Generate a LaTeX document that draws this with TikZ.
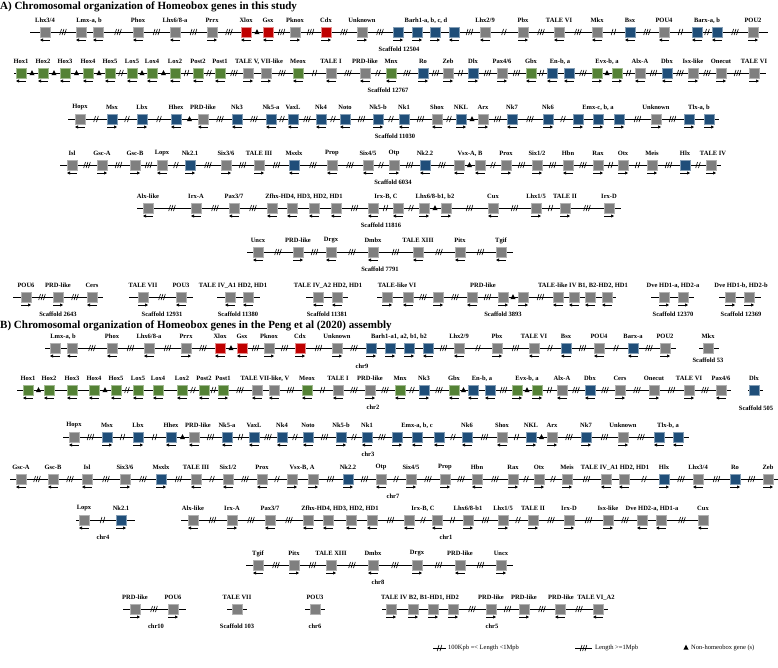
\documentclass[tikz,border=0pt]{standalone}
\usepackage{fontspec}
\setmainfont{Liberation Serif}
\usetikzlibrary{arrows.meta}
\definecolor{hgray}{HTML}{7F7F7F}
\definecolor{hblue}{HTML}{1F4E79}
\definecolor{hgreen}{HTML}{548235}
\definecolor{hred}{HTML}{C00000}
\newcommand\gsl{/}
% one chromosome segment: y, x start, x end, boxes x/colour/direction/separator-before
\newcommand\generow[4]{%
  \draw[chrline] (#2,#1) -- (#3,#1);
  \foreach \x/\c/\d/\s [remember=\x as \px (initially 0)] in {#4}{
    \pic at ({(\px+\x)/2},#1) {sep\s};
    \node[gbox, f\c] (g\x-#1) at (\x,#1) {};
    \pic at (\x,#1) {arr\d};
  }}
% gene names above a segment
\newcommand\genelabels[2]{%
  \foreach \x/\t in {#2}{\node[glabel] (l\x-#1) at (\x,#1-11.5) {\t};}}
\tikzset{
  chrline/.style={line width=1pt, black},
  gbox/.style={draw=white!70!black, line width=0.5pt, minimum size=10pt, inner sep=0pt},
  fg/.style={fill=hgray}, fr/.style={fill=hred, draw=hred!45!white},
  fb/.style={fill=hblue, draw=hblue!55!white}, fe/.style={fill=hgreen, draw=hgreen!55!white},
  glabel/.style={font=\bfseries\fontsize{6.5}{7}\selectfont, inner sep=0pt},
  scaf/.style={glabel},
  title/.style={anchor=west, inner sep=0pt, font=\bfseries\fontsize{11}{13}\selectfont},
  legend/.style={anchor=west, inner sep=0pt, font=\fontsize{6.5}{7}\selectfont},
  gapline/.style={line width=0.6pt, black},
  dirarrow/.style={line width=0.7pt, black},
  sep0/.pic={},
  sep2/.pic={\draw[gapline] (-2.3,3)--(-0.5,-3) (0.5,3)--(2.3,-3);},
  sep3/.pic={\draw[gapline] (-3.3,3)--(-1.5,-3) (-0.9,3)--(0.9,-3) (1.5,3)--(3.3,-3);},
  sept/.pic={\fill[black] (-2.6,2.2)--(2.6,2.2)--(0,-2.8)--cycle;},
  arrl/.pic={\draw[dirarrow, {Triangle[length=3pt,width=3pt]}-] (-5,8)--(5,8);},
  arrr/.pic={\draw[dirarrow, -{Triangle[length=3pt,width=3pt]}] (-5,8)--(5,8);},
  arrn/.pic={}
}
\begin{document}
\begin{tikzpicture}[x=1pt, y=-1pt]
\useasboundingbox[fill=white] (0,0) rectangle (778,667);

% A) this study
\node[title] (titA) at (0,7) {A) Chromosomal organization of Homeobox genes in this study};

\generow{32}{30}{768}{45/g/l/0, 81/g/l/3, 98/g/l/0, 138/g/l/3, 175/g/l/3, 212/g/r/3, 246/r/l/3, 268/r/l/t, 295/g/r/3, 326/r/r/3, 362/g/r/3, 398/b/r/3, 417/b/r/0, 435/b/r/0, 454/b/l/0, 485/g/l/3, 523/g/r/2, 559/g/l/3, 597/g/l/3, 630/b/l/2, 664/g/l/3, 697/b/l/2, 717/b/l/2, 753/g/r/3}
\genelabels{32}{45/Lhx3\gsl 4, 89/{Lmx-a, b}, 138/Phox, 175/Lhx6\gsl 8-a, 212/Prrx, 246/Xlox, 268/Gsx, 295/Pknox, 326/Cdx, 362/Unknown, 426/{Barh1-a, b, c, d}, 485/Lhx2\gsl 9, 523/Pbx, 559/TALE VI, 597/Mkx, 630/Bsx, 664/POU4, 707/{Barx-a, b}, 753/POU2}
\node[scaf] (s12504) at (399,49) {Scaffold 12504};

\generow{73}{14}{766}{21/e/l/0, 43/e/l/t, 65/e/l/t, 88/e/l/t, 110/e/l/t, 132/e/l/2, 152/e/l/t, 175/e/l/t, 198/e/l/2, 220/e/l/2, 248/g/r/3, 266/g/r/0, 298/e/l/3, 331/g/l/2, 365/g/l/3, 391/e/l/2, 423/b/r/3, 448/g/r/3, 473/b/r/2, 502/g/r/3, 531/e/l/3, 552/b/l/2, 569/b/l/0, 597/e/r/3, 617/e/r/t, 640/g/l/2, 667/b/l/3, 693/g/r/3, 721/g/r/3, 754/g/r/3}
\genelabels{73}{21/Hox1, 43/Hox2, 65/Hox3, 88/Hox4, 110/Hox5, 132/Lox5, 152/Lox4, 175/Lox2, 198/Post2, 220/Post1, 259/{TALE V, VII-like}, 298/Meox, 331/TALE I, 365/PRD-like, 391/Mnx, 423/Ro, 448/Zeb, 473/Dlx, 502/Pax4\gsl 6, 531/Gbx, 560/{En-b, a}, 607/{Evx-b, a}, 640/Alx-A, 667/Dbx, 693/Isx-like, 721/Onecut, 754/TALE VI}
\node[scaf] (s12767) at (388,90) {Scaffold 12767};

\generow{119}{68}{719}{80/g/l/0, 112/b/r/2, 142/b/r/2, 176/b/l/2, 203/g/l/t, 237/b/l/3, 271/b/l/3, 293/b/l/2, 321/b/l/3, 345/b/l/2, 378/b/r/3, 404/b/l/2, 437/g/l/3, 461/b/r/2, 483/g/r/t, 512/b/l/3, 548/b/r/3, 578/b/r/2, 598/b/r/0, 619/b/r/0, 656/g/r/3, 689/b/r/3, 709/b/r/0}
\genelabels{119}{80/Hopx, 112/Msx, 142/Lbx, 176/Hhex, 203/PRD-like, 237/Nk3, 271/Nk5-a, 293/VaxL, 321/Nk4, 345/Noto, 378/Nk5-b, 404/Nk1, 437/Shox, 461/NKL, 483/Arx, 512/Nk7, 548/Nk6, 598/{Emx-c, b, a}, 656/Unknown, 699/{Tlx-a, b}}
\node[scaf] (s11030) at (395,136) {Scaffold 11030};

\generow{165}{60}{721}{72/g/l/0, 102/g/r/3, 135/g/r/3, 162/g/l/3, 190/b/r/2, 226/g/r/3, 259/g/r/3, 294/b/l/3, 332/g/l/3, 368/g/l/3, 394/g/r/2, 425/b/l/3, 459/g/l/3, 480/g/l/t, 506/g/r/2, 537/g/r/3, 568/g/l/3, 598/g/r/3, 623/g/r/2, 652/g/r/2, 685/b/r/3, 711/g/r/2}
\genelabels{165}{72/Isl, 102/Gsc-A, 135/Gsc-B, 162/Lopx, 190/Nk2.1, 226/Six3\gsl 6, 259/TALE III, 294/Msxlx, 332/Prop, 368/Six4\gsl 5, 394/Otp, 425/Nk2.2, 470/{Vsx-A, B}, 506/Prox, 537/Six1\gsl 2, 568/Hbn, 598/Rax, 623/Otx, 652/Meis, 685/Hlx, 713/TALE IV}
\node[scaf] (s6034) at (393,182) {Scaffold 6034};

\generow{208}{137}{621}{148/g/l/0, 196/g/l/3, 234/g/l/3, 272/g/l/3, 292/g/l/0, 314/g/l/0, 336/g/l/0, 373/g/l/3, 398/g/l/2, 424/g/r/2, 446/g/r/t, 493/g/l/3, 536/g/r/3, 565/g/r/2, 609/g/r/3}
\genelabels{208}{148/Alx-like, 196/Irx-A, 234/Pax3\gsl 7, 304/{Zfhx-HD4, HD3, HD2, HD1}, 386/{Irx-B, C}, 435/{Lhx6\gsl 8-b1, b2}, 493/Cux, 536/Lhx1\gsl 5, 565/TALE II, 609/Irx-D}
\node[scaf] (s11816) at (381,225) {Scaffold 11816};

\generow{252}{247}{513}{258/g/l/0, 298/g/r/3, 331/g/l/3, 373/g/l/3, 418/g/l/3, 460/g/l/3, 501/g/l/3}
\genelabels{252}{258/Uncx, 298/PRD-like, 331/Drgx, 373/Dmbx, 418/TALE XIII, 460/Pitx, 501/Tgif}
\node[scaf] (s7791) at (380,269) {Scaffold 7791};

\generow{297}{13}{103}{26/g/r/0, 58/g/r/3, 92/g/l/3}
\genelabels{297}{26/POU6, 58/PRD-like, 92/Cers}
\node[scaf] (s2643) at (58,314) {Scaffold 2643};
\generow{297}{129}{193}{143/g/r/0, 181/g/l/3}
\genelabels{297}{143/TALE VII, 181/POU3}
\node[scaf] (s12931) at (162,314) {Scaffold 12931};
\generow{297}{217}{260}{230/g/l/0, 248/g/l/0}
\genelabels{297}{233/{TALE IV\_A1 HD2, HD1}}
\node[scaf] (s11380) at (238,314) {Scaffold 11380};
\generow{297}{306}{348}{318/g/l/0, 337/g/l/0}
\genelabels{297}{328/{TALE IV\_A2 HD2, HD1}}
\node[scaf] (s11381) at (327,314) {Scaffold 11381};
\generow{297}{377}{616}{387/g/r/0, 408/g/l/0, 438/g/r/3, 472/g/l/3, 503/g/r/3, 523/g/r/t, 558/g/l/3, 574/g/l/0, 590/g/l/0, 607/g/l/0}
\genelabels{297}{397/TALE-like VI, 483/PRD-like, 583/{TALE-like IV B1, B2-HD2, HD1}}
\node[scaf] (s3893) at (503,314) {Scaffold 3893};
\generow{297}{651}{694}{664/g/r/0, 683/g/r/0}
\genelabels{297}{673/{Dve HD1-a, HD2-a}}
\node[scaf] (s12370) at (673,314) {Scaffold 12370};
\generow{297}{719}{761}{730/g/r/0, 749/g/r/0}
\genelabels{297}{741/{Dve HD1-b, HD2-b}}
\node[scaf] (s12369) at (741,314) {Scaffold 12369};

% B) Peng et al (2020)
\node[title] (titB) at (0,326) {B) Chromosomal organization of Homeobox genes in the Peng et al (2020) assembly};

\generow{348}{45}{676}{55/g/l/0, 72/g/l/0, 112/g/l/3, 149/g/l/3, 186/g/r/3, 220/r/l/3, 242/r/l/t, 269/g/r/3, 300/r/r/3, 337/g/r/3, 371/b/r/3, 390/b/r/0, 409/b/r/0, 428/b/l/0, 459/g/l/3, 497/g/r/2, 534/g/l/3, 566/b/l/2, 599/g/l/3, 633/b/l/2, 665/g/r/3}
\genelabels{348}{63/{Lmx-a, b}, 112/Phox, 149/Lhx6\gsl 8-a, 186/Prrx, 220/Xlox, 242/Gsx, 269/Pknox, 300/Cdx, 337/Unknown, 399/{Barh1-a1, a2, b1, b2}, 459/Lhx2\gsl 9, 497/Pbx, 534/TALE VI, 566/Bsx, 599/POU4, 633/Barx-a, 665/POU2}
\node[scaf] (chr9) at (362,366) {chr9};
\generow{348}{699}{719}{708/g/n/0}
\genelabels{348}{708/Mkx}
\node[scaf] (s53) at (708,360) {Scaffold 53};

\generow{390}{17}{731}{28/e/l/0, 49/e/l/t, 72/e/l/0, 94/e/l/0, 116/e/l/t, 138/e/l/2, 158/e/l/0, 182/e/l/0, 204/e/l/2, 223/e/r/2, 257/g/l/3, 274/g/l/0, 307/e/l/3, 338/g/l/2, 370/g/r/3, 400/e/l/3, 424/b/r/2, 454/e/l/3, 473/b/l/t, 490/b/l/0, 517/e/r/3, 537/e/r/t, 562/g/l/2, 590/b/l/3, 620/g/r/3, 654/g/r/3, 689/g/r/3, 721/g/l/3}
\genelabels{390}{28/Hox1, 49/Hox2, 72/Hox3, 94/Hox4, 116/Hox5, 138/Lox5, 158/Lox4, 182/Lox2, 204/Post2, 223/Post1, 265/{TALE VII-like, V}, 307/Meox, 338/TALE I, 370/PRD-like, 400/Mnx, 424/Nk3, 454/Gbx, 482/{En-b, a}, 527/{Evx-b, a}, 562/Alx-A, 590/Dbx, 620/Cers, 654/Onecut, 689/TALE VI, 721/Pax4\gsl 6}
\node[scaf] (chr2) at (373,407) {chr2};
\generow{390}{748}{763}{754/b/n/0}
\genelabels{390}{754/Dlx}
\node[scaf] (s505) at (756,408) {Scaffold 505};

\generow{437}{63}{689}{74/g/l/0, 107/b/r/3, 138/b/r/2, 171/b/l/2, 194/g/l/t, 227/b/l/3, 254/b/l/2, 282/b/l/3, 308/b/l/2, 341/b/r/3, 367/b/l/2, 397/b/r/3, 417/b/l/0, 439/b/l/0, 467/b/l/2, 502/g/l/3, 531/b/r/2, 552/g/r/t, 586/b/r/3, 623/g/r/3, 659/b/l/3, 678/b/l/0}
\genelabels{437}{74/Hopx, 107/Msx, 138/Lbx, 171/Hhex, 198/PRD-like, 227/Nk5-a, 254/VaxL, 282/Nk4, 308/Noto, 341/Nk5-b, 367/Nk1, 417/{Emx-a, b, c}, 467/Nk6, 502/Shox, 531/NKL, 552/Arx, 586/Nk7, 623/Unknown, 668/{Tlx-b, a}}
\node[scaf] (chr3) at (368,454) {chr3};

\generow{479}{10}{778}{21/g/l/0, 53/g/l/3, 87/g/l/3, 125/g/r/3, 161/b/r/3, 196/g/l/3, 228/g/l/2, 262/g/l/3, 292/g/r/2, 313/g/r/0, 348/b/r/3, 381/g/l/3, 411/g/r/2, 445/g/r/3, 477/g/l/3, 513/g/r/3, 539/g/r/2, 567/g/r/2, 606/g/l/3, 624/g/l/0, 664/b/r/2, 698/g/l/3, 735/b/r/3, 768/g/r/3}
\genelabels{479}{21/Gsc-A, 53/Gsc-B, 87/Isl, 125/Six3\gsl 6, 161/Msxlx, 196/TALE III, 228/Six1\gsl 2, 262/Prox, 302/{Vsx-B, A}, 348/Nk2.2, 381/Otp, 411/Six4\gsl 5, 445/Prop, 477/Hbn, 513/Rax, 539/Otx, 567/Meis, 615/{TALE IV\_A1 HD2, HD1}, 664/Hlx, 698/Lhx3\gsl 4, 735/Ro, 768/Zeb}
\node[scaf] (chr7) at (393,496) {chr7};

\generow{520}{76}{135}{84/g/l/0, 121/b/r/2}
\genelabels{520}{84/Lopx, 121/Nk2.1}
\node[scaf] (chr4) at (103,537) {chr4};
\generow{520}{181}{708}{193/g/l/0, 232/g/r/3, 270/g/l/3, 308/g/l/3, 328/g/l/0, 351/g/l/0, 372/g/l/0, 409/g/l/3, 437/g/l/2, 468/g/r/2, 503/g/r/3, 533/g/r/2, 569/g/r/3, 608/g/r/3, 642/g/l/3, 661/g/l/0, 703/g/l/3}
\genelabels{520}{193/Alx-like, 232/Irx-A, 270/Pax3\gsl 7, 340/{Zfhx-HD4, HD3, HD2, HD1}, 423/{Irx-B, C}, 468/Lhx6\gsl 8-b1, 503/Lhx1\gsl 5, 533/TALE II, 569/Irx-D, 608/Isx-like, 652/{Dve HD2-a, HD1-a}, 703/Cux}
\node[scaf] (chr1) at (446,537) {chr1};

\generow{565}{246}{513}{258/g/l/0, 294/g/r/3, 331/g/r/3, 373/g/l/3, 417/g/r/3, 460/g/l/3, 501/g/r/3}
\genelabels{565}{258/Tgif, 294/Pitx, 331/TALE XIII, 373/Dmbx, 417/Drgx, 460/PRD-like, 501/Uncx}
\node[scaf] (chr8) at (378,582) {chr8};

\generow{609}{123}{186}{135/g/r/0, 173/g/r/3}
\genelabels{609}{135/PRD-like, 173/POU6}
\node[scaf] (chr10) at (156,626) {chr10};
\generow{609}{227}{247}{237/g/n/0}
\genelabels{609}{237/TALE VII}
\node[scaf] (s103) at (237,626) {Scaffold 103};
\generow{609}{305}{325}{315/g/n/0}
\genelabels{609}{315/POU3}
\node[scaf] (chr6) at (315,626) {chr6};
\generow{609}{382}{608}{391/g/r/0, 413/g/r/0, 433/g/r/0, 453/g/r/0, 491/g/r/3, 524/g/r/3, 560/g/l/3, 598/g/l/3}
\genelabels{609}{420/{TALE IV B2, B1-HD1, HD2}, 491/PRD-like, 524/PRD-like, 561/PRD-like, 596/TALE VI\_A2}
\node[scaf] (chr5) at (492,626) {chr5};

% legend
\coordinate (k1a) at (433,648); \coordinate (k1b) at (446,648);
\draw[chrline] (k1a) -- (k1b);
\pic at (439.5,648) {sep2};
\node[legend] (k1) at (448,648) {100Kpb =< Length <1Mpb};
\coordinate (k2a) at (575,648); \coordinate (k2b) at (592,648);
\draw[chrline] (k2a) -- (k2b);
\pic at (583.5,648) {sep3};
\node[legend] (k2) at (595,648) {Length >=1Mpb};
\pic at (686,647.5) {sept};
\node[legend] (k3) at (691,648) {Non-homeobox gene (s)};
\end{tikzpicture}
\end{document}
